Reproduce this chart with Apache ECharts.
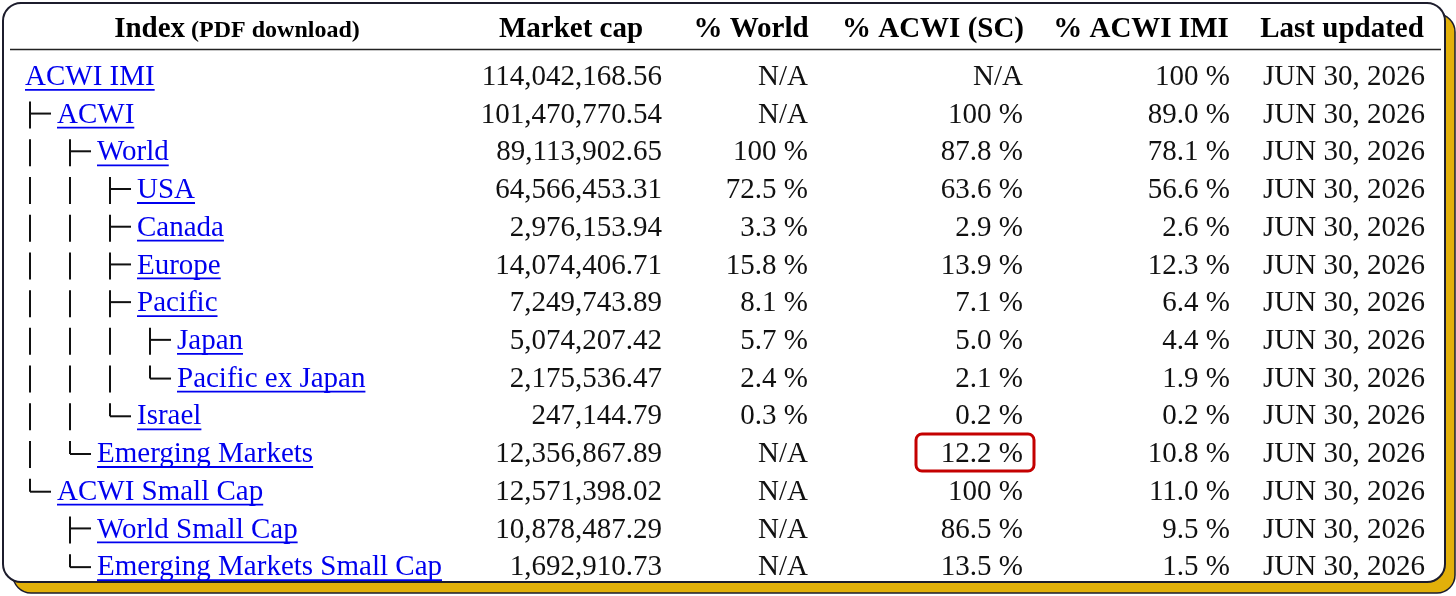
<!doctype html>
<html lang="en">
<head>
<meta charset="UTF-8" />
<title>MSCI ACWI IMI breakdown</title>
<script src="https://cdn.jsdelivr.net/npm/echarts@6/dist/echarts.min.js"></script>
<style>
  * { margin: 0; padding: 0; }
  html, body, #chart { width: 100%; height: 100%; overflow: hidden; background: #fff; }
</style>
</head>
<body>
<div id="chart"></div>
<script>
const headers = ['Index', 'Market cap', '% World', '% ACWI (SC)', '% ACWI IMI', 'Last updated'];
const indexSubHeader = '(PDF download)';
const indexNames = ['ACWI IMI', 'ACWI', 'World', 'USA', 'Canada', 'Europe', 'Pacific', 'Japan',
  'Pacific ex Japan', 'Israel', 'Emerging Markets', 'ACWI Small Cap', 'World Small Cap',
  'Emerging Markets Small Cap'];
// '|' = parent branch still open, ' ' = nothing, last char = this node's branch
const treeGuides = ['', '├', '|├', '||├', '||├', '||├', '||├', '|||├', '|||└', '||└', '|└', '└', ' ├', ' └'];
const marketCap = [114042168.56, 101470770.54, 89113902.65, 64566453.31, 2976153.94, 14074406.71,
  7249743.89, 5074207.42, 2175536.47, 247144.79, 12356867.89, 12571398.02, 10878487.29, 1692910.73];
const pctWorld = [null, null, 100, 72.5, 3.3, 15.8, 8.1, 5.7, 2.4, 0.3, null, null, null, null];
const pctAcwiSC = [null, 100, 87.8, 63.6, 2.9, 13.9, 7.1, 5.0, 2.1, 0.2, 12.2, 100, 86.5, 13.5];
const pctAcwiImi = [100, 89.0, 78.1, 56.6, 2.6, 12.3, 6.4, 4.4, 1.9, 0.2, 10.8, 11.0, 9.5, 1.5];
const lastUpdated = ['JUN 30, 2026', 'JUN 30, 2026', 'JUN 30, 2026', 'JUN 30, 2026', 'JUN 30, 2026',
  'JUN 30, 2026', 'JUN 30, 2026', 'JUN 30, 2026', 'JUN 30, 2026', 'JUN 30, 2026', 'JUN 30, 2026',
  'JUN 30, 2026', 'JUN 30, 2026', 'JUN 30, 2026'];
const highlightCell = { row: 'Emerging Markets', column: '% ACWI (SC)' };

// ---- layout ----
const FAMILY = "'Liberation Serif', 'Times New Roman', serif";
const FONT = '29px ' + FAMILY;
const headerCenters = [237, 571, 751, 933, 1141, 1342];
const columnRight = [null, 662, 808, 1023, 1230, 1425];
const TEXT_DY = 1.5; // nudge so the baseline sits where the table's does
const INK = '#111';
const LINK = '#0000ee';

const measureCtx = document.createElement('canvas').getContext('2d');
function textWidth(str, font) {
  measureCtx.font = font;
  return measureCtx.measureText(str).width;
}

function fmtCap(v) {
  return echarts.format.addCommas(v.toFixed(2));
}
function fmtPct(v) {
  if (v === null) return 'N/A';
  return (v === 100 ? '100' : v.toFixed(1)) + ' %';
}

const columnsText = [
  null,
  marketCap.map(fmtCap),
  pctWorld.map(fmtPct),
  pctAcwiSC.map(fmtPct),
  pctAcwiImi.map(fmtPct),
  lastUpdated
];

function seg(x1, y1, x2, y2) {
  return {
    type: 'line',
    shape: { x1: x1, y1: y1, x2: x2, y2: y2 },
    style: { stroke: INK, lineWidth: 2 }
  };
}

function renderRow(params, api) {
  const i = params.dataIndex;
  const y = api.coord([0, i])[1];
  const ty = y + TEXT_DY;
  const children = [];

  // tree guides
  const guide = treeGuides[i];
  const level = guide.length;
  for (let k = 0; k < level; k++) {
    const x = 30 + 40 * k;
    const ch = guide[k];
    if (ch === '|' || ch === '├') children.push(seg(x, y - 12, x, y + 15));
    if (ch === '├') children.push(seg(x, y, x + 21, y));
    if (ch === '└') {
      children.push(seg(x, y - 12, x, y + 1));
      children.push(seg(x, y + 1, x + 21, y + 1));
    }
  }

  // index name as a link
  const name = indexNames[i];
  const nameX = level === 0 ? 25 : 57 + 40 * (level - 1);
  children.push({
    type: 'text',
    x: nameX, y: ty,
    style: { text: name, font: FONT, fill: LINK, align: 'left', verticalAlign: 'middle' }
  });
  children.push({
    type: 'line',
    shape: { x1: nameX, y1: y + 14, x2: nameX + textWidth(name, FONT), y2: y + 14 },
    style: { stroke: LINK, lineWidth: 1.8 }
  });

  // value columns
  for (let c = 1; c < headers.length; c++) {
    children.push({
      type: 'text',
      x: columnRight[c], y: ty,
      style: { text: columnsText[c][i], font: FONT, fill: INK, align: 'right', verticalAlign: 'middle' }
    });
    if (name === highlightCell.row && headers[c] === highlightCell.column) {
      children.push({
        type: 'rect',
        shape: { x: columnRight[c] - 107, y: y - 19, width: 118, height: 37, r: 6 },
        style: { fill: 'none', stroke: '#c40000', lineWidth: 3 }
      });
    }
  }
  return { type: 'group', children: children };
}

// header texts
const HEAD_FONT = 'bold 29px ' + FAMILY;
const SUB_FONT = 'bold 24px ' + FAMILY;
const headerY = 28 + TEXT_DY;
const headerGraphics = [];
{
  const w1 = textWidth(headers[0], HEAD_FONT);
  const gap = textWidth(' ', SUB_FONT);
  const w2 = textWidth(indexSubHeader, SUB_FONT);
  const start = headerCenters[0] - (w1 + gap + w2) / 2;
  headerGraphics.push({
    type: 'text', x: start, y: headerY, z: 5,
    style: { text: headers[0], font: HEAD_FONT, fill: '#000', align: 'left', verticalAlign: 'middle' }
  });
  headerGraphics.push({
    type: 'text', x: start + w1 + gap, y: headerY + 1.6, z: 5,
    style: { text: indexSubHeader, font: SUB_FONT, fill: '#000', align: 'left', verticalAlign: 'middle' }
  });
}
for (let c = 1; c < headers.length; c++) {
  headerGraphics.push({
    type: 'text', x: headerCenters[c], y: headerY, z: 5,
    style: { text: headers[c], font: HEAD_FONT, fill: '#000', align: 'center', verticalAlign: 'middle' }
  });
}

const chart = echarts.init(document.getElementById('chart'));
chart.setOption({
  animation: false,
  grid: { left: 0, right: 0, top: 57, bottom: 11 },
  xAxis: { type: 'value', min: 0, max: 1, show: false },
  yAxis: { type: 'category', data: indexNames, inverse: true, show: false },
  graphic: [
    {
      type: 'rect', z: -10,
      shape: { x: 13, y: 14, width: 1442, height: 579, r: 18 },
      style: { fill: '#e2b00a', stroke: '#1c1c2c', lineWidth: 1.5 }
    },
    {
      type: 'rect', z: -9,
      shape: { x: 3, y: 3, width: 1442, height: 579, r: 18 },
      style: { fill: '#fff', stroke: '#1c1c2c', lineWidth: 2 }
    },
    {
      type: 'line', z: 5,
      shape: { x1: 10, y1: 49.5, x2: 1441, y2: 49.5 },
      style: { stroke: '#222', lineWidth: 1.6 }
    }
  ].concat(headerGraphics),
  series: [{
    type: 'custom',
    renderItem: renderRow,
    data: indexNames.map(function (n, i) { return [0, i]; }),
    z: 10
  }]
});
</script>
</body>
</html>
